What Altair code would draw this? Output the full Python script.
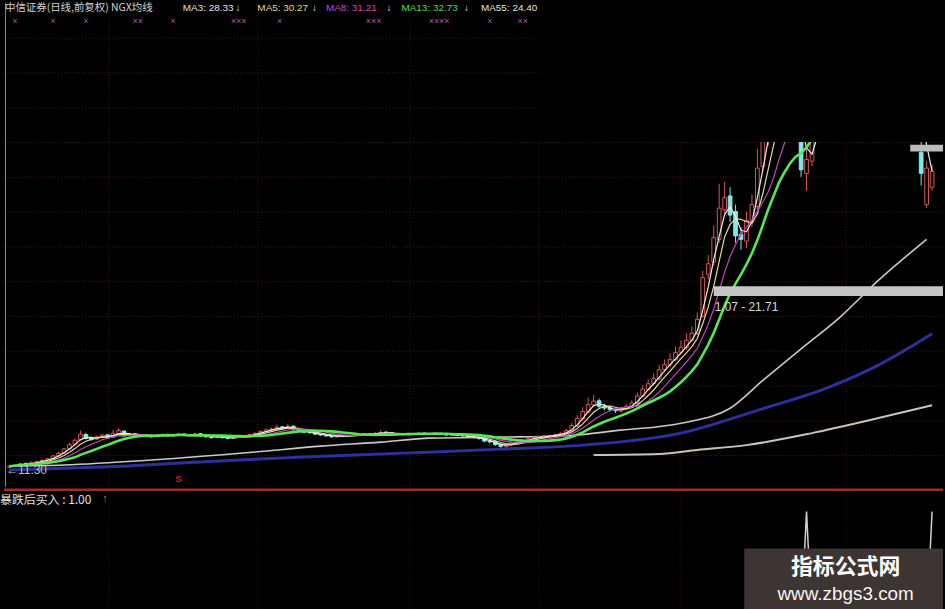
import altair as alt
import pandas as pd

# ---------------- daily bars (day index, OHLC) ----------------
DAYS = list(range(1, 171))

CLOSE = [
    11.35, 11.42, 11.50, 11.45, 11.58, 11.62, 11.70, 11.78, 11.95, 12.10,
    12.35, 12.60, 12.85, 13.20, 12.95, 12.90, 13.05, 13.15, 13.00, 13.25,
    13.40, 13.10, 13.20, 13.05, 13.15, 13.10, 13.05, 13.12, 13.18, 13.10,
    13.15, 13.20, 13.12, 13.18, 13.22, 13.10, 13.05, 13.00, 13.08, 13.00,
    12.95, 13.02, 13.05, 13.10, 13.18, 13.25, 13.35, 13.45, 13.50, 13.60,
    13.55, 13.65, 13.45, 13.40, 13.30, 13.28, 13.20, 13.15, 13.10, 13.05,
    13.10, 13.08, 13.12, 13.15, 13.20, 13.18, 13.22, 13.25, 13.30, 13.28,
    13.22, 13.20, 13.18, 13.22, 13.20, 13.25, 13.22, 13.20, 13.24, 13.20,
    13.15, 13.18, 13.12, 13.10, 13.05, 13.00, 12.95, 12.80, 12.75, 12.60,
    12.50, 12.60, 12.70, 12.75, 12.85, 12.95, 13.00, 13.05, 13.10, 13.12,
    13.18, 13.25, 13.40, 13.70, 14.10, 14.50, 14.90, 15.10, 14.80, 14.70,
    14.60, 14.55, 14.65, 14.80, 15.00, 15.40, 15.80, 16.10, 16.40, 16.90,
    17.20, 17.50, 17.90, 18.20, 18.60, 19.00, 19.80, 22.20, 23.00, 24.50,
    26.20, 26.80, 25.80, 24.60, 24.40, 25.50, 26.40, 28.50, 30.40, 31.50,
    32.50, 33.00, 32.00, 32.80, 31.60, 28.40, 29.00, 30.50, 31.50, 32.50,
    33.50, 34.50, 35.00, 34.00, 35.50, 36.50, 37.00, 36.00, 35.40, 34.80,
    35.00, 34.61, 33.00, 32.90, 32.43, 33.60, 32.75, 28.20, 28.50, 28.30,
]

OPEN = [
    11.30, 11.36, 11.44, 11.52, 11.47, 11.56, 11.64, 11.72, 11.80, 11.96,
    12.12, 12.36, 12.62, 12.88, 13.18, 12.96, 12.92, 13.06, 13.16, 13.02,
    13.24, 13.38, 13.12, 13.22, 13.06, 13.16, 13.12, 13.06, 13.12, 13.19,
    13.11, 13.16, 13.21, 13.13, 13.18, 13.23, 13.12, 13.07, 13.01, 13.09,
    13.01, 12.96, 13.03, 13.06, 13.11, 13.19, 13.26, 13.36, 13.46, 13.51,
    13.62, 13.54, 13.66, 13.46, 13.41, 13.31, 13.29, 13.21, 13.16, 13.11,
    13.04, 13.11, 13.07, 13.13, 13.16, 13.21, 13.17, 13.23, 13.24, 13.32,
    13.29, 13.23, 13.21, 13.17, 13.23, 13.19, 13.26, 13.23, 13.19, 13.25,
    13.21, 13.14, 13.19, 13.13, 13.11, 13.06, 13.01, 12.96, 12.82, 12.77,
    12.62, 12.48, 12.58, 12.69, 12.74, 12.84, 12.96, 13.01, 13.04, 13.09,
    13.11, 13.17, 13.24, 13.38, 13.68, 14.08, 14.46, 14.88, 15.12, 14.82,
    14.72, 14.62, 14.52, 14.64, 14.78, 14.98, 15.38, 15.78, 16.12, 16.38,
    16.92, 17.18, 17.48, 17.92, 18.18, 18.62, 18.98, 20.00, 22.40, 23.10,
    24.40, 26.10, 26.90, 26.00, 24.70, 24.30, 25.40, 26.30, 28.60, 30.20,
    31.40, 32.60, 33.20, 31.90, 32.90, 30.80, 28.20, 28.90, 30.40, 31.40,
    32.40, 33.60, 34.40, 35.20, 33.80, 35.40, 36.40, 37.10, 35.90, 35.10,
    34.40, 35.60, 34.50, 33.10, 32.80, 32.50, 33.70, 29.40, 26.40, 27.40,
]

HIGH = [
    11.40, 11.46, 11.55, 11.56, 11.62, 11.68, 11.75, 11.84, 12.00, 12.18,
    12.42, 12.70, 12.95, 13.40, 13.28, 13.05, 13.12, 13.22, 13.20, 13.45,
    13.55, 13.42, 13.28, 13.26, 13.20, 13.20, 13.15, 13.17, 13.24, 13.22,
    13.20, 13.26, 13.24, 13.22, 13.30, 13.26, 13.15, 13.10, 13.12, 13.12,
    13.05, 13.07, 13.10, 13.15, 13.23, 13.30, 13.42, 13.52, 13.58, 13.75,
    13.68, 13.80, 13.70, 13.50, 13.45, 13.36, 13.33, 13.25, 13.20, 13.14,
    13.15, 13.15, 13.17, 13.20, 13.26, 13.25, 13.27, 13.31, 13.42, 13.36,
    13.32, 13.27, 13.25, 13.27, 13.27, 13.30, 13.29, 13.27, 13.29, 13.28,
    13.24, 13.22, 13.22, 13.17, 13.14, 13.10, 13.04, 13.00, 12.88, 12.82,
    12.66, 12.66, 12.76, 12.82, 12.90, 13.00, 13.06, 13.10, 13.15, 13.18,
    13.24, 13.32, 13.50, 13.85, 14.30, 14.75, 15.30, 15.45, 15.25, 14.95,
    14.85, 14.72, 14.78, 14.92, 15.15, 15.60, 16.00, 16.35, 16.70, 17.20,
    17.50, 17.85, 18.25, 18.60, 19.00, 19.40, 20.20, 22.60, 23.50, 25.20,
    27.60, 27.70, 27.40, 26.40, 25.10, 26.00, 27.00, 29.60, 31.20, 32.20,
    33.10, 33.80, 33.60, 33.40, 33.30, 31.20, 29.60, 31.00, 32.00, 33.00,
    34.00, 35.20, 35.80, 35.60, 36.00, 37.00, 37.60, 37.50, 36.30, 35.60,
    35.50, 35.90, 34.80, 33.60, 33.20, 34.00, 34.00, 30.50, 28.90, 28.70,
]

LOW = [
    11.30, 11.33, 11.41, 11.40, 11.44, 11.52, 11.60, 11.68, 11.76, 11.92,
    12.08, 12.30, 12.55, 12.82, 12.90, 12.82, 12.88, 13.00, 12.94, 12.98,
    13.20, 13.05, 13.08, 13.00, 13.02, 13.05, 13.00, 13.02, 13.08, 13.06,
    13.07, 13.12, 13.08, 13.10, 13.15, 13.06, 13.00, 12.94, 12.97, 12.95,
    12.90, 12.92, 12.99, 13.02, 13.08, 13.15, 13.22, 13.32, 13.42, 13.47,
    13.50, 13.50, 13.40, 13.35, 13.25, 13.22, 13.15, 13.10, 13.05, 12.99,
    13.00, 13.03, 13.04, 13.09, 13.12, 13.13, 13.14, 13.19, 13.20, 13.22,
    13.18, 13.15, 13.13, 13.14, 13.15, 13.16, 13.18, 13.16, 13.16, 13.15,
    13.10, 13.10, 13.08, 13.05, 13.00, 12.95, 12.88, 12.74, 12.68, 12.52,
    12.42, 12.44, 12.54, 12.64, 12.70, 12.80, 12.92, 12.97, 13.00, 13.05,
    13.07, 13.13, 13.20, 13.34, 13.62, 14.00, 14.40, 14.80, 14.70, 14.58,
    14.50, 14.42, 14.45, 14.58, 14.72, 14.92, 15.30, 15.70, 16.00, 16.30,
    16.80, 17.05, 17.40, 17.80, 18.05, 18.50, 18.90, 19.90, 22.10, 22.90,
    24.20, 25.80, 25.40, 24.20, 23.80, 23.90, 25.10, 26.10, 28.30, 29.80,
    31.00, 32.20, 31.60, 31.50, 31.00, 28.00, 27.20, 28.60, 30.10, 31.10,
    32.10, 33.30, 34.00, 33.60, 33.50, 35.00, 36.00, 35.60, 35.00, 34.40,
    34.10, 34.20, 32.70, 32.40, 32.00, 32.20, 32.30, 27.50, 26.20, 27.20,
]

# ---------------- long moving averages (day, value) ----------------
MA55_DAY = [1, 11, 27, 46, 58, 69, 78, 91, 102, 113, 124, 133, 139, 146, 153, 160, 169]
MA55_VAL = [11.37, 11.43, 11.71, 12.17, 12.51, 12.74, 12.97, 13.03, 13.09, 13.43,
            13.83, 14.69, 16.29, 18.11, 19.89, 22.00, 24.40]

BLUE_DAY = [1, 18, 36, 55, 73, 91, 106, 124, 138, 151, 160, 170]
BLUE_VAL = [11.14, 11.31, 11.60, 11.89, 12.11, 12.34, 12.57, 13.26, 14.57, 15.89, 17.14, 18.97]

SLOW_DAY = [108, 120, 127, 136, 148, 160, 170]
SLOW_VAL = [12.00, 12.06, 12.29, 12.57, 13.26, 14.11, 14.86]

# short averages drawn from the closes: period, colour, width
SHORT_MAS = [(3, "#ececec", 1.2), (5, "#e6dc98", 1.2), (8, "#b848b8", 1.2), (13, "#56e656", 2.6)]

# signal row markers and the lower indicator
XMARK_DAY = [2, 9, 15, 24.5, 31, 43, 50.5, 67.7, 79.7, 89, 95]
XMARK_TXT = ["×", "×", "×", "××", "×", "×××", "×", "×××", "××××", "×", "××"]
SELL_DAY = 32
SIGNAL_DAYS = [147, 170]

# price line marked on the chart
LEVEL_FROM_DAY = 130
LEVEL_PRICE = 21.71
LEVEL_TEXT = "1.07 - 21.71"
TOP_TAG_FROM_DAY = 166
TOP_TAG_PRICE = 29.85

# ---------------- scales / layout ----------------
DAY_MAX = 172
PRICE_LOW, PRICE_HIGH = 10.17, 38.0
GRID_PRICES = list(range(12, 38, 2))
MONTH_DAYS = [19.1, 46.4, 74.3, 97.9, 123.8, 154.2]
HIDE_FROM_DAY, HIDE_ABOVE = 97.9, 30.0

W, H_TOP, H_BOT = 945, 487, 122
CJK = "Noto Sans CJK SC"
LAT = "Liberation Sans"
GRID = "#501414"
UP = "#d65858"
DOWN = "#80e8e8"

candles = pd.DataFrame({"day": DAYS, "open": OPEN, "high": HIGH, "low": LOW, "close": CLOSE})
candles["dir"] = ["up" if c >= o else "down" for o, c in zip(OPEN, CLOSE)]

x_scale = alt.Scale(domain=[0, DAY_MAX], nice=False, zero=False)
y_scale = alt.Scale(domain=[PRICE_LOW, PRICE_HIGH], nice=False, zero=False)
x_axis = alt.Axis(values=MONTH_DAYS, grid=True, gridColor=GRID, gridDash=[1, 2], gridWidth=1,
                  labels=False, ticks=False, domain=False, title=None)
y_axis = alt.Axis(values=GRID_PRICES, grid=True, gridColor=GRID, gridDash=[1, 2], gridWidth=1,
                  labels=False, ticks=False, domain=False, title=None)


def X(field):
    return alt.X(field, type="quantitative", scale=x_scale, axis=x_axis)


def Y(field):
    return alt.Y(field, type="quantitative", scale=y_scale, axis=y_axis)


def ma_value(n):
    return sum(CLOSE[-n:]) / n


base = alt.Chart(candles)
layers = []

# long averages
for d, v, color, width in [(SLOW_DAY, SLOW_VAL, "#cbc3b8", 2.0),
                           (BLUE_DAY, BLUE_VAL, "#2c2f9c", 3.0),
                           (MA55_DAY, MA55_VAL, "#c9c9c9", 1.6)]:
    layers.append(
        alt.Chart(pd.DataFrame({"day": d, "v": v}))
        .mark_line(color=color, strokeWidth=width, clip=True, interpolate="monotone")
        .encode(x=X("day"), y=Y("v"))
    )

# candles: wicks then bodies
for kind, stroke, fill in [("up", UP, "black"), ("down", DOWN, DOWN)]:
    sub = base.transform_filter(f"datum.dir == '{kind}'")
    layers.append(sub.mark_rule(color=stroke, strokeWidth=1, clip=True)
                  .encode(x=X("day"), y=Y("low"), y2="high"))
    layers.append(
        sub.transform_calculate(x0="datum.day - 0.34", x1="datum.day + 0.34")
        .mark_rect(fill=fill, stroke=stroke, strokeWidth=1, clip=True)
        .encode(x=X("x0"), x2="x1", y=Y("open"), y2="close")
    )

# short moving averages of the close
for n, color, width in SHORT_MAS:
    layers.append(
        base.transform_window(ma="mean(close)", frame=[-(n - 1), 0], sort=[alt.SortField("day")])
        .mark_line(color=color, strokeWidth=width, clip=True)
        .encode(x=X("day"), y=Y("ma"))
    )

# upper right area is blank on screen
layers.append(
    alt.Chart(pd.DataFrame({"d0": [HIDE_FROM_DAY], "d1": [DAY_MAX], "p0": [HIDE_ABOVE], "p1": [PRICE_HIGH]}))
    .mark_rect(color="black")
    .encode(x=X("d0"), x2="d1", y=Y("p0"), y2="p1")
)

# marked price level with its caption
level = pd.DataFrame({"d0": [LEVEL_FROM_DAY], "d1": [DAY_MAX], "p": [LEVEL_PRICE],
                      "p2": [LEVEL_PRICE - 0.57], "t": [LEVEL_TEXT]})
layers.append(alt.Chart(level).mark_rect(color="#c6c6c6")
              .encode(x=X("d0"), x2="d1", y=Y("p"), y2="p2"))
layers.append(alt.Chart(level).mark_text(align="left", baseline="middle", dy=21, dx=1,
                                         font=LAT, fontSize=12, color="#dcdcdc")
              .encode(x=X("d0"), y=Y("p"), text="t:N"))

tag = pd.DataFrame({"d0": [TOP_TAG_FROM_DAY], "d1": [DAY_MAX], "p": [TOP_TAG_PRICE], "p2": [TOP_TAG_PRICE - 0.4]})
layers.append(alt.Chart(tag).mark_rect(color="#bcbcbc").encode(x=X("d0"), x2="d1", y=Y("p"), y2="p2"))

# starting price label
start = pd.DataFrame({"day": [0.4], "p": [LOW[0]], "t": [f"←{LOW[0]:.2f}"]})
layers.append(alt.Chart(start).mark_text(align="left", baseline="middle", dy=3, font=LAT,
                                         fontSize=12, color="#c2c2c2")
              .encode(x=X("day"), y=Y("p"), text="t:N"))

# signal row of crosses and sell mark
layers.append(
    alt.Chart(pd.DataFrame({"day": XMARK_DAY, "t": XMARK_TXT}))
    .mark_text(align="center", baseline="middle", font=LAT, fontSize=9, color="#b458b4")
    .encode(x=X("day"), y=alt.value(18), text="t:N")
)
layers.append(
    alt.Chart(pd.DataFrame({"day": [SELL_DAY], "t": ["S"]}))
    .mark_text(align="center", baseline="middle", font=LAT, fontSize=10, fontWeight="bold", color="#c42424")
    .encode(x=X("day"), y=alt.value(479), text="t:N")
)

# header line
header = [
    ("中信证券(日线,前复权) NGX均线", 1, "#d2d2d2", CJK, 10.5),
    (f"MA3: {ma_value(3):.2f}", 180, "#e4e4e4", LAT, 10),
    ("↓", 233, "#9eeeee", LAT, 10),
    (f"MA5: {ma_value(5):.2f}", 255, "#e2d896", LAT, 10),
    ("↓", 310, "#9eeeee", LAT, 10),
    (f"MA8: {ma_value(8):.2f}", 324, "#c44cc4", LAT, 10),
    ("↓", 385, "#9eeeee", LAT, 10),
    (f"MA13: {ma_value(13):.2f}", 400, "#52de52", LAT, 10),
    ("↓", 463, "#9eeeee", LAT, 10),
    (f"MA55: {MA55_VAL[-1]:.2f}", 480, "#e4e4e4", LAT, 10),
]
for text, px, color, font, size in header:
    layers.append(
        alt.Chart(pd.DataFrame({"t": [text]}))
        .mark_text(align="left", baseline="alphabetic", font=font, fontSize=size, color=color)
        .encode(x=alt.value(px), y=alt.value(8), text="t:N")
    )

layers.append(
    alt.Chart(pd.DataFrame({"t": [0]}))
    .mark_rule(color="#8c8c8c", strokeWidth=1)
    .encode(x=alt.value(1.5), y=alt.value(0), y2=alt.value(H_TOP))
)

top = alt.layer(*layers).properties(width=W, height=H_TOP)

# ---------------- lower indicator panel ----------------
sig = pd.DataFrame({"day": DAYS, "v": [1.0 if d in SIGNAL_DAYS else 0.0 for d in DAYS]})
bx_axis = alt.Axis(values=MONTH_DAYS, grid=True, gridColor="#3a1010", gridDash=[1, 2],
                   labels=False, ticks=False, domain=False, title=None)
bot_layers = [
    alt.Chart(sig).mark_line(color="#d2d2d2", strokeWidth=1.5, clip=True).encode(
        x=alt.X("day:Q", scale=x_scale, axis=bx_axis),
        y=alt.Y("v:Q", scale=alt.Scale(domain=[0.116, 1.205], nice=False, zero=False), axis=None),
    ),
    alt.Chart(pd.DataFrame({"t": [0]})).mark_rule(color="#9e2c2c", strokeWidth=2.5)
    .encode(x=alt.value(0), x2=alt.value(W), y=alt.value(1)),
    alt.Chart(pd.DataFrame({"t": [f"暴跌后买入 : {sig['v'].iloc[-1]:.2f}"]}))
    .mark_text(align="left", baseline="middle", font=CJK, fontSize=12, color="#e2e2e2")
    .encode(x=alt.value(-4), y=alt.value(11), text="t:N"),
    alt.Chart(pd.DataFrame({"t": ["↑"]}))
    .mark_text(align="left", baseline="middle", font=LAT, fontSize=11, color="#d07070")
    .encode(x=alt.value(99), y=alt.value(10), text="t:N"),
    alt.Chart(pd.DataFrame({"t": [0]})).mark_rect(color="#3d3533")
    .encode(x=alt.value(745), x2=alt.value(W), y=alt.value(60), y2=alt.value(H_BOT)),
    alt.Chart(pd.DataFrame({"t": ["指标公式网"]}))
    .mark_text(align="center", baseline="middle", font=CJK, fontSize=22, fontWeight="bold", color="#ffffff")
    .encode(x=alt.value(847), y=alt.value(79), text="t:N"),
    alt.Chart(pd.DataFrame({"t": ["www.zbgs3.com"]}))
    .mark_text(align="center", baseline="middle", font=LAT, fontSize=19, color="#f4f4f4")
    .encode(x=alt.value(847), y=alt.value(106), text="t:N"),
]
bottom = alt.layer(*bot_layers).properties(width=W, height=H_BOT)

chart = (
    alt.vconcat(top, bottom, spacing=0)
    .properties(background="black", padding=0)
    .configure_view(strokeWidth=0)
)

chart.save("out.html", embed_options={"renderer": "svg", "actions": False})
